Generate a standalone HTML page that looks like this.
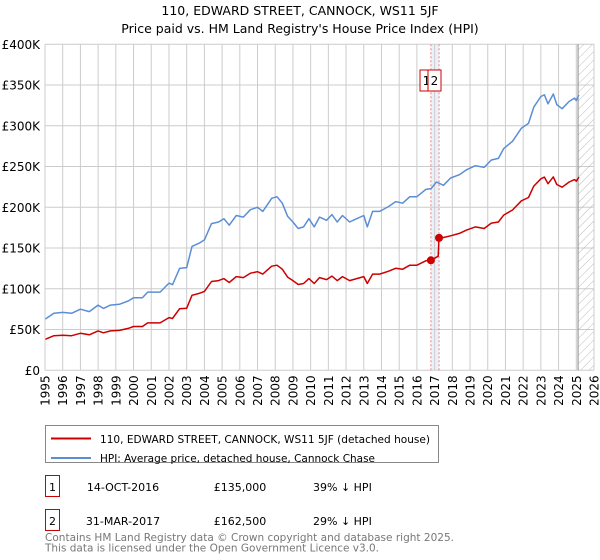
<!DOCTYPE html>
<html><head><meta charset="utf-8"><style>
body{margin:0;background:#fff;font-family:"Liberation Sans","DejaVu Sans",sans-serif;}
#wrap{position:relative;width:600px;height:560px;overflow:hidden}
svg text{font-family:"DejaVu Sans","Liberation Sans",sans-serif}
</style></head><body>
<div id="wrap">
<svg id="chart" width="600" height="560"></svg>
</div>
<script>
const hpiYears=[1995.0,1995.5,1996,1996.5,1997,1997.5,1998,1998.3,1998.7,1999.2,1999.7,2000,2000.5,2000.8,2001.5,2002,2002.2,2002.6,2003,2003.3,2003.7,2004,2004.4,2004.8,2005.1,2005.4,2005.8,2006.2,2006.6,2007,2007.3,2007.8,2008.1,2008.4,2008.7,2009,2009.3,2009.6,2009.9,2010.2,2010.5,2010.9,2011.2,2011.5,2011.8,2012.2,2012.6,2013,2013.2,2013.5,2013.9,2014.4,2014.8,2015.2,2015.6,2016,2016.5,2016.8,2017.1,2017.5,2017.9,2018.4,2018.8,2019.3,2019.8,2020.2,2020.6,2020.9,2021.4,2021.9,2022.3,2022.6,2023,2023.2,2023.4,2023.7,2023.9,2024.2,2024.6,2024.9,2025.0,2025.15];
const hpiValues=[62.6,70,71,70,75,72,80,76,80,81,85,89,89,96,96,107,105,125,126,152,156,160,180,182,186,178,190,188,197,200,195,211,213,205,189,182,174,176,186,176,188,184,191,182,190,182,186,190,176,195,195,201,207,205,213,213,222,223,231,227,236,240,246,251,249,258,260,272,281,297,303,323,336,338,327,339,326,321,330,334,331,338];
const priceYears=[1995.0,1995.5,1996,1996.5,1997,1997.5,1998,1998.3,1998.7,1999.2,1999.7,2000,2000.5,2000.8,2001.5,2002,2002.2,2002.6,2003,2003.3,2003.7,2004,2004.4,2004.8,2005.1,2005.4,2005.8,2006.2,2006.6,2007,2007.3,2007.8,2008.1,2008.4,2008.7,2009,2009.3,2009.6,2009.9,2010.2,2010.5,2010.9,2011.2,2011.5,2011.8,2012.2,2012.6,2013,2013.2,2013.5,2013.9,2014.4,2014.8,2015.2,2015.6,2016,2016.5,2016.79,2017.2,2017.25,2017.5,2017.9,2018.4,2018.8,2019.3,2019.8,2020.2,2020.6,2020.9,2021.4,2021.9,2022.3,2022.6,2023,2023.2,2023.4,2023.7,2023.9,2024.2,2024.6,2024.9,2025.0,2025.15];
const priceValues=[37.9,42.4,43,42.4,45.4,43.6,48.4,46,48.4,49,51.4,53.8,53.8,58.1,58.1,64.7,63.5,75.6,76.2,92,94.4,96.8,108.9,110.1,112.5,107.7,115,113.7,119.2,121,118,127.7,128.9,124,114.3,110.1,105.3,106.5,112.5,106.5,113.7,111.3,115.6,110.1,115,110.1,112.5,115,106.5,118,118,121.6,125.2,124,128.9,128.9,134.3,135,140,162.5,163,165,168,172,176,174,180.6,182,190.4,196.7,208,212,226,235,237,229,237.3,228,224.7,231,234,232,237];
const saleYears=[2016.79,2017.25];
const saleValues=[135,162.5];
const saleLabels=["1","2"];
const yTicks=[0,50,100,150,200,250,300,350,400];
const yTickLabels=["£0","£50K","£100K","£150K","£200K","£250K","£300K","£350K","£400K"];
const xTicks=[1995,1996,1997,1998,1999,2000,2001,2002,2003,2004,2005,2006,2007,2008,2009,2010,2011,2012,2013,2014,2015,2016,2017,2018,2019,2020,2021,2022,2023,2024,2025,2026];

const L=45,R=594,T=44.3,B=370.3;
const X=y=>L+(y-1995)/(2026-1995)*(R-L);
const Y=v=>B-v/400*(B-T);
const NS="http://www.w3.org/2000/svg";
const svg=document.getElementById('chart');
function mk(tag,attrs,parent){const e=document.createElementNS(NS,tag);for(const k in attrs)e.setAttribute(k,attrs[k]);(parent||svg).appendChild(e);return e;}

const defs=mk('defs',{});
const pat=mk('pattern',{id:'hatch',width:6,height:6,patternUnits:'userSpaceOnUse',patternTransform:'rotate(45)'},defs);
mk('line',{x1:0,y1:0,x2:0,y2:6,stroke:'#bbb','stroke-width':1},pat);

let t=mk('text',{x:300,y:15,'text-anchor':'middle','font-size':12.5,fill:'#000'});t.textContent='110, EDWARD STREET, CANNOCK, WS11 5JF';


t=mk('text',{x:300,y:33,'text-anchor':'middle','font-size':12.5,fill:'#000'});t.textContent="Price paid vs. HM Land Registry's House Price Index (HPI)";



let band=mk('rect',{x:X(saleYears[0]),y:T,width:X(saleYears[1])-X(saleYears[0]),height:B-T,fill:'#dde6f5',opacity:0.6});



xTicks.forEach(yr=>{const g=mk('line',{x1:X(yr),x2:X(yr),y1:T,y2:B,stroke:'#cccccc','stroke-width':1});


const lb=mk('text',{transform:`translate(${X(yr)+4.5},${B+5}) rotate(-90)`,'text-anchor':'end','font-size':12,fill:'#000'});lb.textContent=yr;

});
yTicks.forEach((v,i)=>{const g=mk('line',{x1:L,x2:R,y1:Y(v),y2:Y(v),stroke:'#cccccc','stroke-width':1});


const lb=mk('text',{x:L-5,y:Y(v)+4.5,'text-anchor':'end','font-size':12,fill:'#000'});lb.textContent=yTickLabels[i];

});

let h=mk('rect',{x:X(2025.1),y:T,width:R-X(2025.1),height:B-T,fill:'url(#hatch)'});


let hl=mk('line',{x1:X(2025.1),x2:X(2025.1),y1:T,y2:B,stroke:'#888','stroke-width':1});



saleYears.forEach(yr=>{const d=mk('line',{x1:X(yr),x2:X(yr),y1:T,y2:B,stroke:'#f08080','stroke-width':1,'stroke-dasharray':'2,2'});

});

function pts(xs,vs){return xs.map((x,i)=>X(x).toFixed(1)+','+Y(vs[i]).toFixed(1)).join(' ');}
let hp=mk('polyline',{points:pts(hpiYears,hpiValues),fill:'none',stroke:'#5b8ed6','stroke-width':1.5,'stroke-linejoin':'round'});


let pp=mk('polyline',{points:pts(priceYears,priceValues),fill:'none',stroke:'#cc0000','stroke-width':1.5,'stroke-linejoin':'round'});



saleYears.forEach((yr,i)=>{const c=mk('circle',{cx:X(yr),cy:Y(saleValues[i]),r:4,fill:'#cc0000'});

});

const bx=[420,428];
saleLabels.forEach((s,i)=>{const g=mk('g',{});


mk('rect',{x:bx[i],y:70,width:13,height:21,fill:'#fff',stroke:'#cc0000','stroke-width':1},g);
const tx=mk('text',{x:bx[i]+6.5,y:85,'text-anchor':'middle','font-size':12,fill:'#000'},g);tx.textContent=s;});

mk('line',{x1:L,x2:L,y1:T,y2:B,stroke:'#cccccc'});

const lg=mk('g',{});


mk('rect',{x:45.5,y:425.5,width:393,height:37,fill:'#fff',stroke:'#888'},lg);
mk('line',{x1:51,x2:91,y1:438.5,y2:438.5,stroke:'#cc0000','stroke-width':2},lg);
let lt=mk('text',{x:100,y:443,'font-size':11,fill:'#000',textLength:330,lengthAdjust:'spacingAndGlyphs'},lg);lt.textContent='110, EDWARD STREET, CANNOCK, WS11 5JF (detached house)';


mk('line',{x1:51,x2:91,y1:458,y2:458,stroke:'#5b8ed6','stroke-width':2},lg);
lt=mk('text',{x:100,y:462,'font-size':11,fill:'#000',textLength:275,lengthAdjust:'spacingAndGlyphs'},lg);lt.textContent='HPI: Average price, detached house, Cannock Chase';



const rows=[["1","14-OCT-2016","£135,000","39% ↓ HPI"],["2","31-MAR-2017","£162,500","29% ↓ HPI"]];
const ry=[476,510];
rows.forEach((r,i)=>{const g=mk('g',{});


mk('rect',{x:45.5,y:ry[i]-0.5,width:14,height:21,fill:'#fff',stroke:'#cc0000'},g);
let a=mk('text',{x:52.5,y:ry[i]+15,'text-anchor':'middle','font-size':11},g);a.textContent=r[0];
a=mk('text',{x:123,y:ry[i]+15,'text-anchor':'middle','font-size':11},g);a.textContent=r[1];
a=mk('text',{x:240,y:ry[i]+15,'text-anchor':'middle','font-size':11},g);a.textContent=r[2];
a=mk('text',{x:313,y:ry[i]+15,'font-size':11},g);a.textContent=r[3];});

let f=mk('text',{x:45,y:541,'font-size':11,fill:'#777',textLength:409,lengthAdjust:'spacingAndGlyphs'});f.textContent='Contains HM Land Registry data © Crown copyright and database right 2025.';


f=mk('text',{x:45,y:551.5,'font-size':11,fill:'#777',textLength:334,lengthAdjust:'spacingAndGlyphs'});f.textContent='This data is licensed under the Open Government Licence v3.0.';


</script>
</body></html>
